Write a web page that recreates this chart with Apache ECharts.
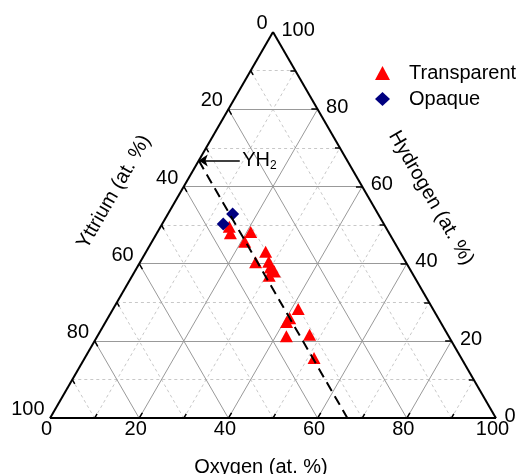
<!DOCTYPE html>
<html lang="en">
<head>
<meta charset="UTF-8">
<title>Y-H-O ternary</title>
<script src="https://cdn.jsdelivr.net/npm/echarts@6/dist/echarts.min.js"></script>
<style>
  html, body { margin: 0; padding: 0; background: #fff; }
  #main { width: 526px; height: 474px; }
</style>
</head>
<body>
<div id="main"></div>
<script>
// compositions in at.% : oxygen and hydrogen, yttrium = 100 - O - H
var transparentO = [15.4, 16.5, 20.9, 20.8, 26.8, 25.9, 28.8, 29.9, 31.3, 30.7, 41.5, 40.8, 40.6, 47.4, 42.4, 51.4];
var transparentH = [49.6, 47.9, 48.2, 45.7, 43.1, 40.4, 40.5, 39.0, 38.0, 36.9, 28.3, 25.9, 24.9, 21.6, 21.2, 15.6];
var opaqueO = [14.5, 13.7];
var opaqueH = [52.9, 50.3];
var majorTicks = [0, 20, 40, 60, 80, 100];
var minorTicks = [10, 30, 50, 70, 90];
// YH2 line (constant Y = 33.3 %) : start at YH2, end on the O axis
var yh2LineO = [0, 66.7];
var yh2LineH = [66.7, 0];
var arrowTailO = 9.2; // arrow from the label to YH2

var FONT = '"Liberation Sans", Arial, sans-serif';
var S = Math.sqrt(3) / 2;

// ternary (O, H) -> cartesian
function toXY(o, h) {
  return [o / 100 + h / 200, h / 100 * S];
}
function seg(a, b) {
  return { coords: [a, b] };
}

var edges = [
  seg(toXY(0, 0), toXY(100, 0)),
  seg(toXY(100, 0), toXY(0, 100)),
  seg(toXY(0, 100), toXY(0, 0))
];

function gridLines(values) {
  var out = [];
  values.forEach(function (v) {
    if (v <= 0 || v >= 100) return;
    out.push(seg(toXY(0, v), toXY(100 - v, v)));       // hydrogen const
    out.push(seg(toXY(v, 0), toXY(v, 100 - v)));       // oxygen const
    out.push(seg(toXY(100 - v, 0), toXY(0, 100 - v))); // yttrium const
  });
  return out;
}

function tickLines(values, L) {
  var out = [];
  values.forEach(function (v) {
    if (v <= 0 || v >= 100) return;
    out.push(seg(toXY(v, 0), toXY(v, L)));                 // oxygen
    out.push(seg(toXY(100 - v, v), toXY(100 - v - L, v))); // hydrogen
    out.push(seg(toXY(0, 100 - v), toXY(L, 100 - v - L))); // yttrium
  });
  return out;
}

var oxyLabels = majorTicks.map(function (v) { return toXY(v, 0).concat([v]); });
var yttLabels = majorTicks.map(function (v) { return toXY(0, 100 - v).concat([v]); });
var hydLabels = majorTicks.map(function (v) { return toXY(100 - v, v).concat([v]); });

function labelSeries(data, pos, align) {
  return {
    type: 'scatter',
    data: data,
    symbolSize: 1,
    silent: true,
    itemStyle: { color: 'rgba(0,0,0,0)', opacity: 1 },
    label: {
      show: true,
      position: pos,
      align: align,
      verticalAlign: 'middle',
      fontSize: 20,
      fontFamily: FONT,
      color: '#000',
      opacity: 1,
      formatter: function (p) { return p.data[2]; }
    },
    z: 5
  };
}

function lineSeries(data, style, z) {
  style.opacity = 1;
  return {
    type: 'lines', coordinateSystem: 'cartesian2d', silent: true, z: z,
    data: data, lineStyle: style
  };
}

var transparentData = transparentO.map(function (o, i) { return toXY(o, transparentH[i]); });
var opaqueData = opaqueO.map(function (o, i) { return toXY(o, opaqueH[i]); });

var arrow = lineSeries([seg(toXY(arrowTailO, yh2LineH[0]), toXY(yh2LineO[0], yh2LineH[0]))],
  { color: '#000', width: 1.5 }, 3);
arrow.symbol = ['none', 'arrow'];
arrow.symbolSize = 9;

var chart = echarts.init(document.getElementById('main'));
chart.setOption({
  animation: false,
  backgroundColor: '#fff',
  grid: { left: 50, top: 32, width: 446, height: 446 * S },
  xAxis: { type: 'value', min: 0, max: 1, show: false },
  yAxis: { type: 'value', min: 0, max: S, show: false },
  legend: {
    data: ['Transparent', 'Opaque'],
    orient: 'vertical',
    left: 370,
    top: 58,
    itemWidth: 15,
    itemHeight: 14,
    itemGap: 6,
    textStyle: { fontSize: 20, fontFamily: FONT, color: '#000', lineHeight: 20, padding: [0, 0, 0, 14] }
  },
  graphic: [
    {
      type: 'text', x: 114, y: 192, rotation: Math.PI / 3,
      style: { text: 'Yttrium (at. %)', fontSize: 20, fontFamily: FONT, fill: '#000', align: 'center', verticalAlign: 'middle' }
    },
    {
      type: 'text', x: 431, y: 198, rotation: -Math.PI / 3,
      style: { text: 'Hydrogen (at. %)', fontSize: 20, fontFamily: FONT, fill: '#000', align: 'center', verticalAlign: 'middle' }
    },
    {
      type: 'text', x: 261, y: 467,
      style: { text: 'Oxygen (at. %)', fontSize: 20, fontFamily: FONT, fill: '#000', align: 'center', verticalAlign: 'middle' }
    }
  ],
  series: [
    lineSeries(gridLines(minorTicks), { color: '#c8c8c8', width: 1, type: [3, 3] }, 1),
    lineSeries(gridLines(majorTicks), { color: '#999', width: 1 }, 1),
    lineSeries(tickLines(majorTicks, 1.4).concat(tickLines(minorTicks, 1.1)), { color: '#000', width: 1.5 }, 2),
    lineSeries(edges, { color: '#000', width: 2 }, 3),
    // dashed YH2 line sits above the markers
    lineSeries([seg(toXY(yh2LineO[0], yh2LineH[0]), toXY(yh2LineO[1], yh2LineH[1]))],
      { color: '#000', width: 2, type: [10, 6] }, 7),
    arrow,
    {
      type: 'scatter', silent: true, symbolSize: 1, z: 5,
      itemStyle: { color: 'rgba(0,0,0,0)', opacity: 1 },
      data: [toXY(arrowTailO, yh2LineH[0])],
      label: {
        show: true, position: [3, 0], align: 'left', verticalAlign: 'middle',
        formatter: '{a|YH}{b|2}',
        rich: {
          a: { fontSize: 20, fontFamily: FONT, color: '#000' },
          b: { fontSize: 12, fontFamily: FONT, color: '#000', padding: [12, 0, 0, 0] }
        }
      }
    },
    labelSeries(oxyLabels, [-3, 12], 'center'),
    labelSeries(yttLabels, [-5, -8], 'right'),
    labelSeries(hydLabels, [9, -1.5], 'left'),
    {
      name: 'Transparent', type: 'scatter', z: 6,
      symbol: 'triangle', symbolSize: [13, 12],
      itemStyle: { color: '#ff0000', opacity: 1 },
      data: transparentData
    },
    {
      name: 'Opaque', type: 'scatter', z: 6,
      symbol: 'diamond', symbolSize: 13,
      itemStyle: { color: '#000080', opacity: 1 },
      data: opaqueData
    }
  ]
});
</script>
</body>
</html>
